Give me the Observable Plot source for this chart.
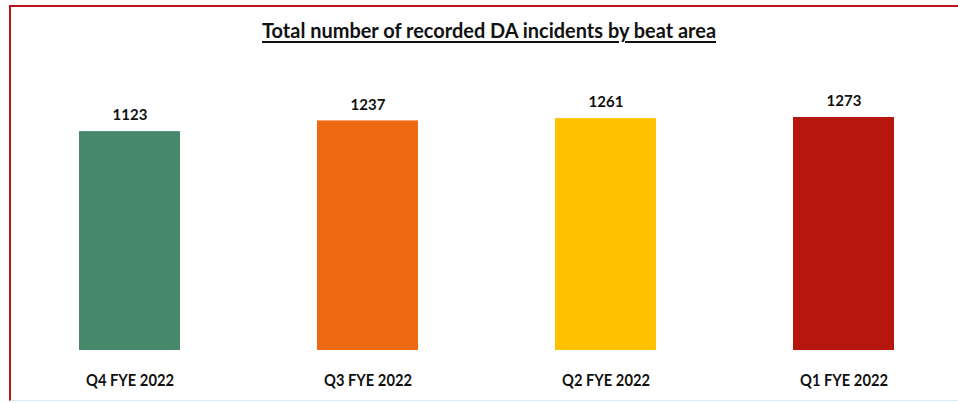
<!DOCTYPE html>
<html>
<head>
<meta charset="utf-8">
<script src="https://cdn.jsdelivr.net/npm/d3@7"></script>
<script src="https://cdn.jsdelivr.net/npm/@observablehq/plot@0.6"></script>
<style>
  html, body { margin: 0; padding: 0; background: #fff; }
  body { width: 958px; height: 403px; position: relative; overflow: hidden;
         font-family: Lato, "Open Sans", sans-serif; }
  #frame { position: absolute; left: 9px; top: 5px; right: 0; bottom: 2px;
           border-top: 2px solid #c0101c; border-left: 2px solid #c0101c; border-bottom: 1px solid #d4f0f6; }
  #title { position: absolute; top: 17px; left: 20px; width: 938px; text-align: center; white-space: nowrap; }
  #title span { display: inline-block; font-weight: bold; font-size: 21px; color: #111;
                text-decoration: underline; text-underline-offset: 3px; text-decoration-thickness: 1.5px;
                transform-origin: center; }
  #chart { position: absolute; left: 0; top: 60px; }
</style>
</head>
<body>
<div id="frame"></div>
<div id="title"><span id="ttext"></span></div>
<div id="chart"></div>
<script>
const titleText = "Total number of recorded DA incidents by beat area";
const categories = ["Q4 FYE 2022", "Q3 FYE 2022", "Q2 FYE 2022", "Q1 FYE 2022"];
const values = [1123, 1237, 1261, 1273];
const colors = ["#468a6b", "#ee6a12", "#ffc000", "#b5170f"];
const axisFloor = -1200; // value at which the drawn bars start

const data = categories.map((c, i) => ({cat: c, value: values[i]}));

const t = document.getElementById("ttext");
t.textContent = titleText;
const w = t.getBoundingClientRect().width;
t.style.transform = `scaleX(${454 / w})`;

const chart = Plot.plot({
  width: 958,
  height: 343,
  marginLeft: 14,
  marginRight: 0,
  marginTop: 57,
  marginBottom: 53,
  style: {fontFamily: 'Lato, "Open Sans", sans-serif', background: "transparent", color: "#111"},
  x: {domain: categories, paddingInner: 0.576, paddingOuter: 0.271, label: null},
  y: {domain: [axisFloor, d3.max(values)], axis: null},
  color: {domain: categories, range: colors},
  marks: [
    Plot.barY(data, {x: "cat", y1: axisFloor, y2: "value", fill: "cat"}),
    Plot.text(data, {x: "cat", y: "value", text: d => String(d.value), dy: -16, fontSize: 15, fontWeight: "bold", fill: "#111"}),
    Plot.axisX({tickSize: 0, tickPadding: 23, fontSize: 17, fontWeight: "bold", label: null, fill: "#111"})
  ]
});
// narrow the tick labels to the condensed look of the original
chart.querySelectorAll('[aria-label="x-axis tick label"] text').forEach(el => {
  el.setAttribute("textLength", 88);
  el.setAttribute("lengthAdjust", "spacingAndGlyphs");
});
document.getElementById("chart").appendChild(chart);
</script>
</body>
</html>
